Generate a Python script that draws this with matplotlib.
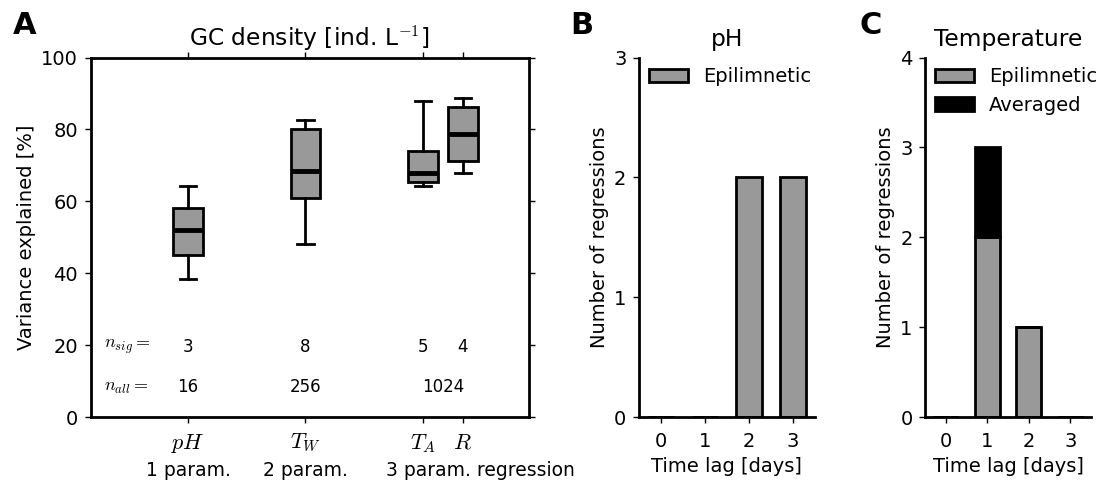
import numpy as np
import matplotlib
matplotlib.use('Agg')
import matplotlib.pyplot as plt

plt.rcParams['mathtext.fontset'] = 'cm'
plt.rcParams['font.size'] = 14

# panel A: box stats
box_pos = [1, 2, 3, 3.34]
box_labels = ['$pH$', '$T_W$', '$T_A$', '$R$']
whislo = [38.5, 48.2, 64.4, 67.9]
q1 = [45.0, 60.9, 65.4, 71.2]
med = [51.9, 68.4, 67.8, 78.8]
q3 = [58.2, 80.0, 74.0, 86.1]
whishi = [64.4, 82.5, 87.9, 88.8]
n_sig = ['3', '8', '5', '4']
n_all = ['16', '256', '1024']
n_all_pos = [1, 2, 3.17]
group_labels = ['1 param.', '2 param.', '3 param. regression']
group_pos = [1, 2, 3.49]

# panels B and C
lags = [0, 1, 2, 3]
ph_epi = [0, 0, 2, 2]
temp_epi = [0, 2, 1, 0]
temp_avg = [0, 1, 0, 0]

gray = '#999999'

fig = plt.figure(figsize=(10.99, 4.83), dpi=100)
axA = fig.add_axes([0.0825, 0.1366, 0.3988, 0.7443])
axB = fig.add_axes([0.5814, 0.1366, 0.1601, 0.7443])
axC = fig.add_axes([0.8417, 0.1366, 0.1510, 0.7443])

stats = []
for i in range(len(box_pos)):
    stats.append(dict(whislo=whislo[i], q1=q1[i], med=med[i], q3=q3[i], whishi=whishi[i], fliers=[]))
axA.bxp(stats, positions=box_pos, widths=0.25, capwidths=0.14, patch_artist=True,
        boxprops=dict(facecolor=gray, edgecolor='k', linewidth=2),
        medianprops=dict(color='k', linewidth=3.5),
        whiskerprops=dict(color='k', linewidth=2),
        capprops=dict(color='k', linewidth=2), manage_ticks=False)
axA.set_xlim(0.172, 3.902)
axA.set_ylim(0, 100)
axA.set_xticks(box_pos)
axA.set_xticklabels(box_labels, fontsize=16)
axA.set_yticks([0, 20, 40, 60, 80, 100])
axA.tick_params(direction='out', top=True, right=True, labeltop=False, labelright=False,
                length=4, width=1, pad=7)
axA.tick_params(axis='y', pad=5)
for sp in axA.spines.values():
    sp.set_linewidth(2)
axA.set_ylabel('Variance explained [%]')
axA.set_title('GC density [ind. L$^{-1}$]', fontsize=16.8, pad=8)

axA.text(0.282, 19.4, '$n_{sig}=$', fontsize=13, va='center')
axA.text(0.282, 8.4, '$n_{all}=$', fontsize=13, va='center')
for p, s in zip(box_pos, n_sig):
    axA.text(p, 19.4, s, ha='center', va='center', fontsize=12)
for p, s in zip(n_all_pos, n_all):
    axA.text(p, 8.4, s, ha='center', va='center', fontsize=12)
tr = axA.get_xaxis_transform()
for p, s in zip(group_pos, group_labels):
    axA.text(p, -0.149, s, transform=tr, ha='center', va='center', fontsize=13.5, clip_on=False)

# panel B
axB.bar(lags, ph_epi, width=0.6, color=gray, edgecolor='k', linewidth=2, label='Epilimnetic')
axB.set_xlim(-0.5, 3.5)
axB.set_ylim(0, 3)
axB.set_yticks([0, 1, 2, 3])
axB.set_xticks(lags)
axB.set_xlabel('Time lag [days]')
axB.set_ylabel('Number of regressions')
axB.set_title('pH', fontsize=16.8, pad=8)
axB.legend(loc='upper left', frameon=False, handlelength=2.0, borderaxespad=0.1)

# panel C
axC.bar(lags, temp_epi, width=0.6, color=gray, edgecolor='k', linewidth=2, label='Epilimnetic')
axC.bar(lags, temp_avg, bottom=temp_epi, width=0.6, color='k', edgecolor='k', linewidth=2, label='Averaged')
axC.set_xlim(-0.5, 3.5)
axC.set_ylim(0, 4)
axC.set_yticks([0, 1, 2, 3, 4])
axC.set_xticks(lags)
axC.set_xlabel('Time lag [days]')
axC.set_ylabel('Number of regressions')
axC.set_title('Temperature', fontsize=16.8, pad=8)
axC.legend(loc='upper left', frameon=False, handlelength=2.0, borderaxespad=0.1)

for ax in [axB, axC]:
    ax.spines['top'].set_visible(False)
    ax.spines['right'].set_visible(False)
    ax.spines['left'].set_linewidth(2)
    ax.spines['bottom'].set_linewidth(2)
    ax.tick_params(direction='out', length=4, width=1, pad=7)
    ax.tick_params(axis='y', pad=5)

fig.text(0.0114, 0.948, 'A', fontsize=22, fontweight='bold', va='center')
fig.text(0.5187, 0.948, 'B', fontsize=22, fontweight='bold', va='center')
fig.text(0.7825, 0.948, 'C', fontsize=22, fontweight='bold', va='center')

fig.savefig('out.png', dpi=100)
